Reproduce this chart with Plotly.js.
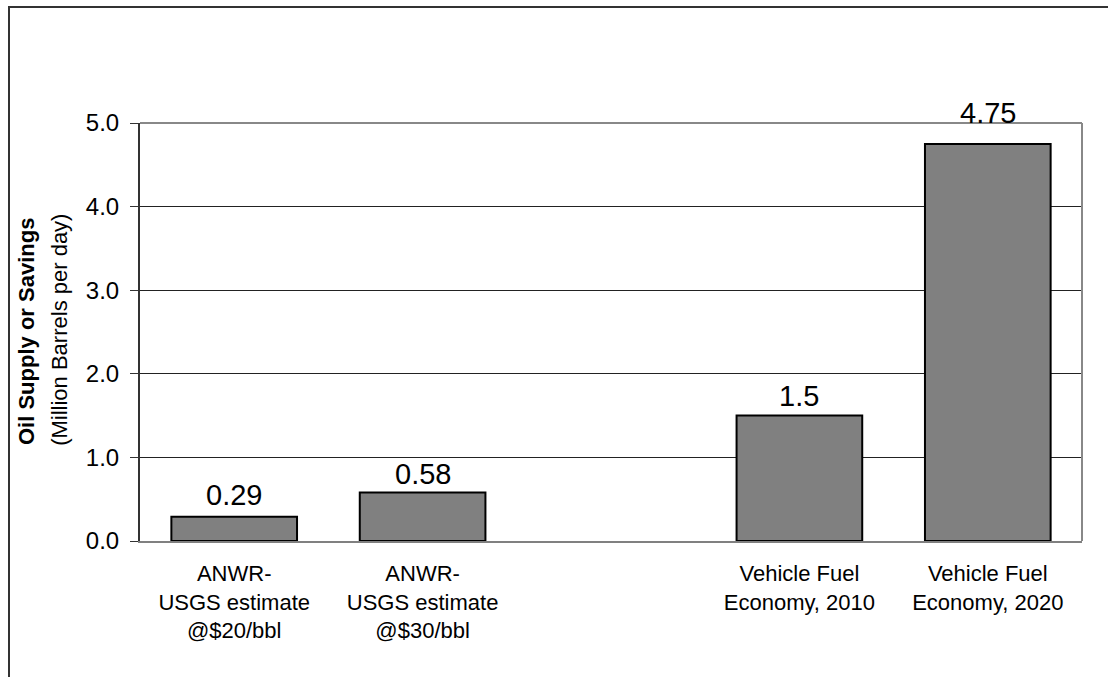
<!DOCTYPE html>
<html>
<head>
<meta charset="utf-8">
<script src="https://cdn.plot.ly/plotly-3.0.1.min.js"></script>
<style>
  html, body { margin: 0; padding: 0; background: #fff; }
  #wrap { position: relative; width: 1108px; height: 677px; overflow: hidden; }
  #chart { width: 1108px; height: 677px; }
  #frame { position: absolute; left: 8px; top: 6px; width: 1200px; height: 800px;
           border-left: 2px solid #333; border-top: 2px solid #333; pointer-events: none; }
</style>
</head>
<body>
<div id="wrap">
  <div id="chart"></div>
  <div id="frame"></div>
</div>
<script>
const categories = [
  "ANWR-<br>USGS estimate<br>@$20/bbl",
  "ANWR-<br>USGS estimate<br>@$30/bbl",
  " ",
  "Vehicle Fuel<br>Economy, 2010",
  "Vehicle Fuel<br>Economy, 2020"
];
const values = [0.29, 0.58, null, 1.5, 4.75];
const yTickVals = [0, 1, 2, 3, 4, 5];
const yTitleMain = "Oil Supply or Savings";
const yTitleSub = "(Million Barrels per day)";

const FONT = "Liberation Sans, Arial, sans-serif";

// vertical lift (px) of each value label above its bar, as in the original
const labelLift = [4, 1, 0, 2, 13];

const trace = {
  type: "bar",
  x: categories,
  y: values,
  marker: { color: "#808080", line: { color: "#000", width: 2 } },
  hoverinfo: "skip"
};

const valueLabels = [];
values.forEach((v, i) => {
  if (v === null) return;
  valueLabels.push({
    xref: "x", yref: "y",
    x: categories[i], y: v,
    text: String(v),
    showarrow: false,
    xanchor: "center", yanchor: "bottom",
    yshift: labelLift[i],
    font: { family: FONT, size: 29, color: "#000" }
  });
});

const titleLabels = [
  {
    xref: "paper", yref: "paper",
    x: -0.1210, y: 0.5,
    xanchor: "center", yanchor: "middle",
    textangle: -90, showarrow: false,
    text: "<b>" + yTitleMain + "</b>",
    font: { family: FONT, size: 22, color: "#000" }
  },
  {
    xref: "paper", yref: "paper",
    x: -0.0850, y: 0.505,
    xanchor: "center", yanchor: "middle",
    textangle: -90, showarrow: false,
    text: yTitleSub,
    font: { family: FONT, size: 22, color: "#000" }
  }
];

const layout = {
  width: 1108,
  height: 677,
  margin: { l: 140, r: 26, t: 123, b: 136 },
  paper_bgcolor: "#fff",
  plot_bgcolor: "#fff",
  showlegend: false,
  bargap: 0.333,
  font: { family: FONT, color: "#000" },
  xaxis: {
    type: "category",
    showgrid: false,
    showline: true,
    linecolor: "#808080",
    linewidth: 1.5,
    ticks: "",
    tickfont: { family: FONT, size: 22, color: "#000" },
    ticklabelstandoff: 12,
    fixedrange: true
  },
  yaxis: {
    range: [0, 5],
    tickvals: yTickVals,
    tickformat: ".1f",
    showgrid: true,
    gridcolor: "#222",
    gridwidth: 1,
    zeroline: false,
    showline: true,
    linecolor: "#333",
    linewidth: 2,
    ticks: "outside",
    ticklen: 8,
    tickcolor: "#333",
    tickwidth: 1,
    tickfont: { family: FONT, size: 24, color: "#000" },
    ticklabelstandoff: 6,
    fixedrange: true
  },
  shapes: [
    { type: "line", xref: "paper", yref: "paper", x0: 0, x1: 1, y0: 1, y1: 1,
      line: { color: "#888", width: 2 }, layer: "above" },
    { type: "line", xref: "paper", yref: "paper", x0: 1, x1: 1, y0: 0, y1: 1,
      line: { color: "#888", width: 2 }, layer: "above" }
  ],
  annotations: valueLabels.concat(titleLabels)
};

Plotly.newPlot("chart", [trace], layout, { displayModeBar: false, staticPlot: true });
</script>
</body>
</html>
